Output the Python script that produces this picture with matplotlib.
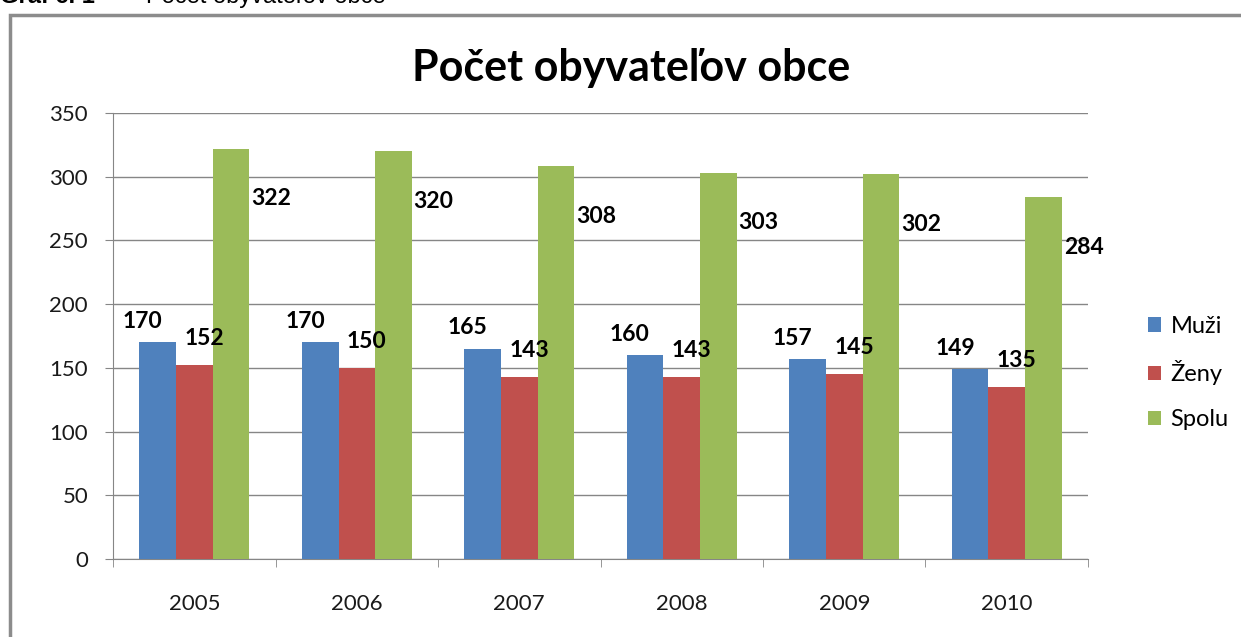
import numpy as np
import matplotlib.pyplot as plt
from matplotlib.patches import Rectangle

# Údaje
roky = ['2005', '2006', '2007', '2008', '2009', '2010']
muzi = [170, 170, 165, 160, 157, 149]
zeny = [152, 150, 143, 143, 145, 135]
spolu = [322, 320, 308, 303, 302, 284]

farby = ['#4F81BD', '#C0504D', '#9BBB59']
plt.rcParams['font.family'] = ['Lato', 'DejaVu Sans']

fig = plt.figure(figsize=(12.41, 6.37), dpi=100)
ax = fig.add_axes([0.0911, 0.1225, 0.7856, 0.7002])

x = np.arange(len(roky))
w = 0.225
serie = [(muzi, 'Muži'), (zeny, 'Ženy'), (spolu, 'Spolu')]
for i, (vals, nazov) in enumerate(serie):
    ax.bar(x + (i - 1) * w, vals, width=w, color=farby[i], label=nazov, zorder=3)

# Popisky hodnôt (posun ako v Exceli)
for xi, m, z, s in zip(x, muzi, zeny, spolu):
    ax.annotate(str(m), (xi - w, m), xytext=(-11, 15), textcoords='offset points',
                ha='center', va='center', fontsize=16.5, fontweight='bold')
    ax.annotate(str(z), (xi, z), xytext=(7, 19), textcoords='offset points',
                ha='center', va='center', fontsize=16.5, fontweight='bold')
    ax.annotate(str(s), (xi + w, s), xytext=(29, -36), textcoords='offset points',
                ha='center', va='center', fontsize=16.5, fontweight='bold')

ax.set_xlim(-0.5, len(roky) - 0.5)
ax.set_ylim(0, 350)
ax.set_yticks(range(0, 351, 50))
ax.set_xticks(x)
ax.set_xticklabels(roky)
ax.set_xticks(np.arange(-0.5, len(roky)), minor=True)
ax.tick_params(axis='x', which='major', length=0, pad=25, labelsize=16,
               labelcolor='#1a1a1a')
ax.tick_params(axis='x', which='minor', length=6, color='#868686')
ax.tick_params(axis='y', length=6, color='#868686', labelsize=16, pad=12,
               labelcolor='#1a1a1a')
ax.grid(axis='y', color='#868686', lw=1, zorder=0)
for s in ['top', 'right']:
    ax.spines[s].set_visible(False)
for s in ['left', 'bottom']:
    ax.spines[s].set_color('#868686')

# Nadpis grafu (centrovaný v ráme)
fig.text(631 / 1241, 1 - 68 / 637, 'Počet obyvateľov obce', fontsize=31,
         fontweight='bold', ha='center', va='center')

ax.legend(loc='center left', bbox_to_anchor=(1.04, 0.417), frameon=False,
          fontsize=17, handlelength=0.55, handleheight=0.55, handletextpad=0.4,
          labelspacing=1.0)

# Rám grafu
fig.patches.append(Rectangle((10 / 1241, -0.1), 1.2, 1 - 15 / 637 + 0.1,
                             transform=fig.transFigure, fill=False,
                             edgecolor='#8c8c8c', lw=2.5))

# Odrezaný nadpis nad grafom
fig.text(0.0, 1 - 3 / 637, 'Graf č. 1', fontsize=17, fontweight='bold',
         family='Liberation Sans', va='baseline')
fig.text(112 / 1241, 1 - 3 / 637, '–', fontsize=17,
         family='Liberation Sans', va='baseline')
fig.text(146 / 1241, 1 - 3 / 637, 'Počet obyvateľov obce', fontsize=17,
         family='Liberation Sans', va='baseline')

fig.savefig('out.png', dpi=100)
